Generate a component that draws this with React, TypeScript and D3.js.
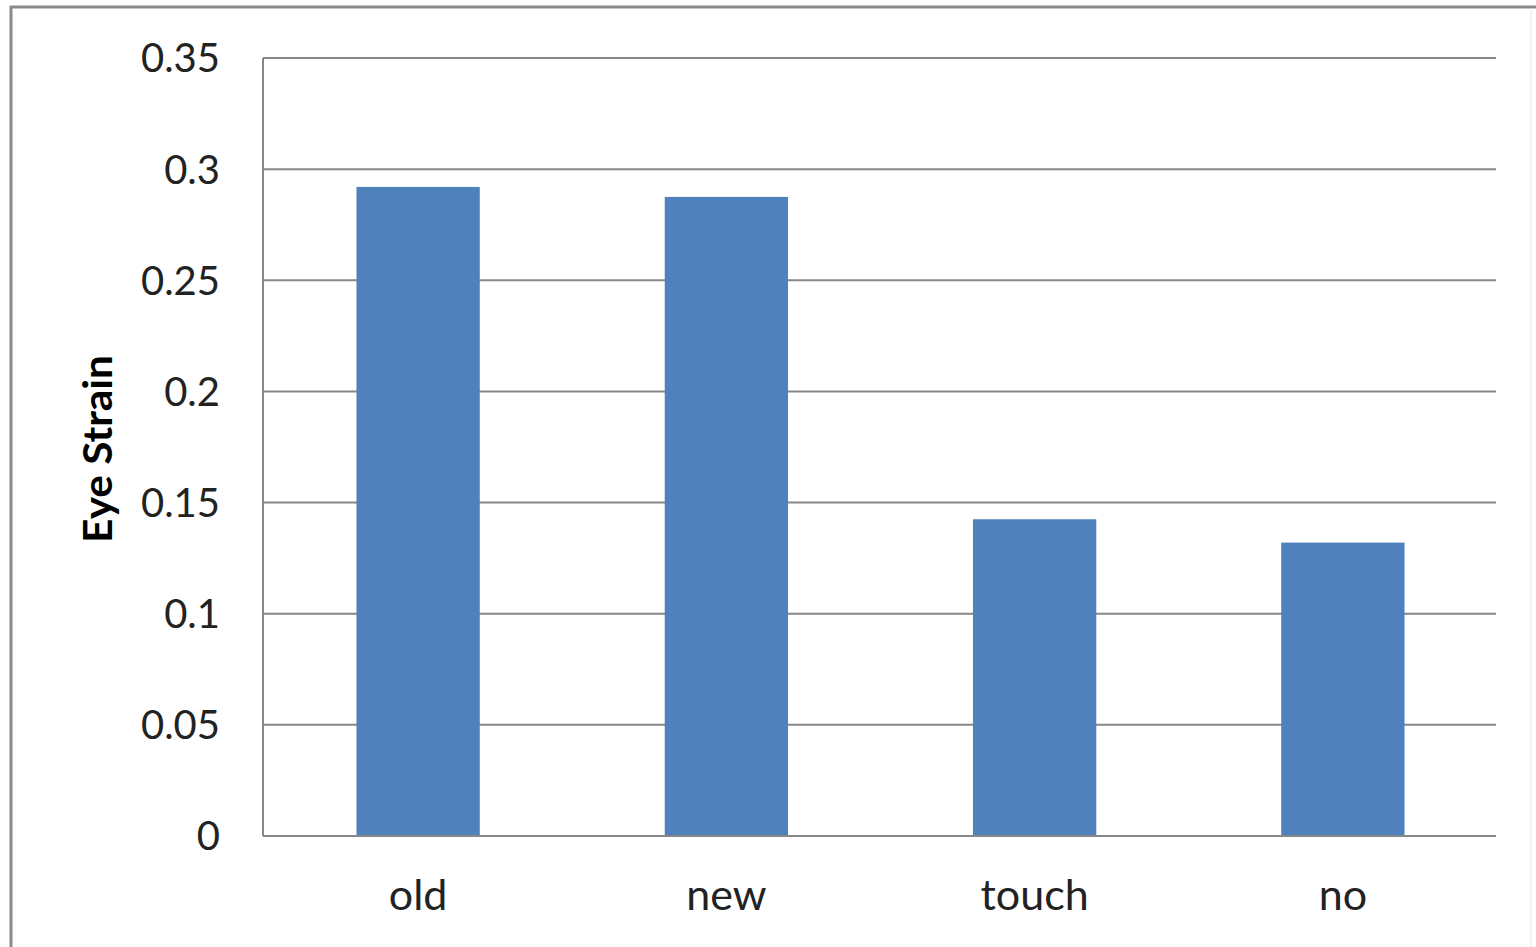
import React from "react";
import * as d3 from "d3";

const categories = ["old", "new", "touch", "no"];
const values = [0.292, 0.2875, 0.1425, 0.132];
const yTicks = [0, 0.05, 0.1, 0.15, 0.2, 0.25, 0.3, 0.35];
const yTickLabels = ["0", "0.05", "0.1", "0.15", "0.2", "0.25", "0.3", "0.35"];
const yTitle = "Eye Strain";

const W = 1536;
const H = 947;
const M = { left: 263, right: 1496, top: 58, bottom: 836 };

export default function App() {
  const x = d3
    .scaleBand<string>()
    .domain(categories)
    .range([M.left, M.right])
    .paddingInner(0.6)
    .paddingOuter(0.3);
  const y = d3.scaleLinear().domain([0, 0.35]).range([M.bottom, M.top]);
  const font = "Lato, 'Open Sans', sans-serif";
  return (
    <svg
      width={W}
      height={H}
      style={{ position: "absolute", left: 0, top: 0, background: "#fff" }}
    >
      <rect x={0} y={0} width={W} height={H} fill="#fff" />
      <line x1={11} x2={11} y1={6} y2={H} stroke="#8a8a8a" strokeWidth={3} />
      <line x1={10} x2={W} y1={7} y2={7} stroke="#8a8a8a" strokeWidth={3} />
      <line x1={1531} x2={1531} y1={8} y2={H} stroke="#e6e6e6" strokeWidth={1} />
      {yTicks.map((t, i) => (
        <g key={i}>
          {t !== 0 && (
            <line
              x1={M.left}
              x2={M.right}
              y1={y(t)}
              y2={y(t)}
              stroke="#878787"
              strokeWidth={2}
            />
          )}
          <text
            x={220}
            y={y(t)}
            dy="0.36em"
            textAnchor="end"
            fontFamily={font}
            fontSize={40}
            fill="#222"
          >
            {yTickLabels[i]}
          </text>
        </g>
      ))}
      {categories.map((c, i) => (
        <rect
          key={c}
          x={(x(c) as number) + 1}
          y={y(values[i])}
          width={x.bandwidth()}
          height={y(0) - y(values[i])}
          fill="#4f81bd"
        />
      ))}
      <line x1={M.left} x2={M.left} y1={M.top} y2={M.bottom} stroke="#878787" strokeWidth={2} />
      <line x1={M.left} x2={M.right} y1={y(0)} y2={y(0)} stroke="#878787" strokeWidth={2} />
      {categories.map((c) => (
        <text
          key={c}
          x={(x(c) as number) + x.bandwidth() / 2 + 1}
          y={910}
          textAnchor="middle"
          fontFamily={font}
          fontSize={43}
          fill="#222"
        >
          {c}
        </text>
      ))}
      <text
        transform={`translate(112, 449) rotate(-90)`}
        textAnchor="middle"
        fontFamily={font}
        fontWeight="bold"
        fontSize={40}
        textLength={188}
        lengthAdjust="spacingAndGlyphs"
        fill="#000"
      >
        {yTitle}
      </text>
    </svg>
  );
}
